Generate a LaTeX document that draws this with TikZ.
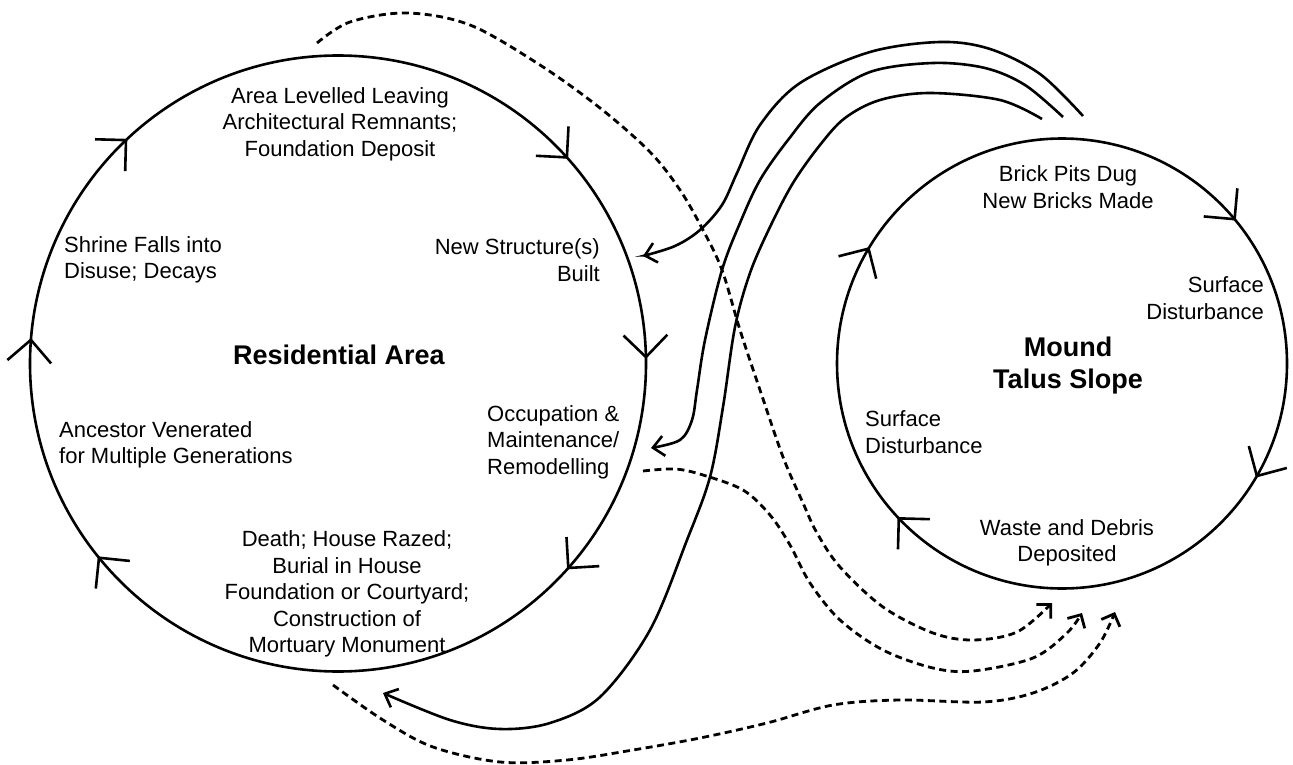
\documentclass[tikz,border=0pt]{standalone}
\usepackage{fontspec}
\setmainfont{Liberation Sans}
\usetikzlibrary{arrows.meta,calc}
\tikzset{
  ring/.style={draw, circle, inner sep=0pt, line width=2.6pt},
  ringtip/.style={line width=2.6pt, line join=miter},
  lbl/.style={inner sep=0pt, font=\fontsize{22}{26.5}\selectfont},
  ttl/.style={inner sep=0pt, font=\fontsize{27}{32}\selectfont\bfseries},
  flow/.style={line width=2.6pt, -{Straight Barb[length=11pt,width=20pt]}},
  refuse/.style={line width=2.8pt, dash pattern=on 7pt off 4.5pt, -{Straight Barb[length=10pt,width=20pt]}},
}
\newcommand\cycmark[3]{%
  \draw[ringtip] ($(#1.center)+(#3:#2)$) ++(#3+45:31) -- ++(#3+225:31) -- ++(#3+135:31);}
\begin{document}
\begin{tikzpicture}[x=1pt,y=1pt]
\fill[white] (0,0) rectangle (1293,-765);
\useasboundingbox (0,0) rectangle (1293,-765);
% cycles
\node[ring, minimum size=616pt] (L) at (338,-363.5) {};
\node[ring, minimum size=450pt] (R) at (1062,-363.5) {};
\cycmark{L}{308}{133.5}
\cycmark{L}{308}{42}
\cycmark{L}{308}{1.2}
\cycmark{L}{308}{-41.6}
\cycmark{L}{308}{219.1}
\cycmark{L}{308}{175.6}
\cycmark{R}{225}{39.9}
\cycmark{R}{225}{-30}
\cycmark{R}{225}{223.5}
\cycmark{R}{225}{149.3}
% labels, residential area
\node[lbl, align=center] (lev) at (340,-124) {Area Levelled Leaving\\Architectural Remnants;\\Foundation Deposit};
\node[lbl, align=left, anchor=west] (shr) at (64,-260) {Shrine Falls into\\Disuse; Decays};
\node[lbl, align=right, anchor=east] (new) at (600,-260) {New Structure(s)\\Built};
\node[ttl] (res) at (339,-355) {Residential Area};
\node[lbl, align=left, anchor=west] (occ) at (487,-442) {Occupation \&\\Maintenance/\\Remodelling};
\node[lbl, align=left, anchor=west] (anc) at (59,-445) {Ancestor Venerated\\for Multiple Generations};
\node[lbl, align=center] (dea) at (347,-594) {Death; House Razed;\\Burial in House\\Foundation or Courtyard;\\Construction of\\Mortuary Monument};
% labels, mound
\node[lbl, align=center] (bri) at (1068,-187) {Brick Pits Dug\\New Bricks Made};
\node[lbl, align=right, anchor=east] (su1) at (1264,-298) {Surface\\Disturbance};
\node[ttl, align=center] (mou) at (1068,-366) {Mound\\Talus Slope};
\node[lbl, align=left, anchor=west] (su2) at (865,-432) {Surface\\Disturbance};
\node[lbl, align=center] (was) at (1067,-543) {Waste and Debris\\Deposited};
% connector ends
\coordinate (s1a) at (1083,-116);
\coordinate (s1b) at (643,-256);
\coordinate (s2a) at (1063,-117);
\coordinate (s2b) at (651,-448);
\coordinate (s3a) at (1042,-119);
\coordinate (s3b) at (383,-693);
\coordinate (d1a) at (317,-43);
\coordinate (d1b) at (1052,-603);
\coordinate (d2a) at (643,-471);
\coordinate (d2b) at (1082,-613);
\coordinate (d3a) at (333,-685);
\coordinate (d3b) at (1115,-612);
% solid connectors: mound -> residential area
\draw[flow] plot[smooth, tension=0.55] coordinates {(s1a) (1040,-74) (990,-49) (940,-42) (870,-52) (800,-83) (760,-125) (737,-173) (722,-205) (700,-230) (675,-246) (s1b)};
\draw[flow] plot[smooth, tension=0.55] coordinates {(s2a) (1025,-85) (985,-68) (933,-63) (870,-72) (820,-103) (788,-140) (760,-180) (740,-223) (722,-270) (705,-340) (697,-390) (692,-420) (680,-440) (s2b)};
\draw[flow] plot[smooth, tension=0.55] coordinates {(s3a) (1000,-100) (930,-93) (880,-100) (845,-118) (820,-145) (793,-183) (770,-227) (750,-273) (735,-327) (723,-407) (710,-477) (687,-540) (650,-630) (600,-697) (550,-723) (500,-729) (450,-720) (s3b)};
% dashed connectors: residential area -> mound
\draw[refuse] plot[smooth, tension=0.55] coordinates {(d1a) (350,-22) (407,-13) (470,-25) (540,-65) (600,-108) (650,-152) (680,-190) (703,-230) (722,-270) (740,-330) (760,-390) (783,-457) (803,-503) (817,-533) (840,-567) (883,-607) (933,-633) (973,-640) (1017,-632) (d1b)};
\draw[refuse] plot[smooth, tension=0.55] coordinates {(d2a) (675,-469) (703,-475) (743,-490) (770,-515) (790,-545) (810,-583) (840,-620) (883,-650) (933,-668) (973,-671) (1033,-658) (1067,-633) (d2b)};
\draw[refuse] plot[smooth, tension=0.55] coordinates {(d3a) (383,-720) (433,-747) (500,-762) (567,-760) (633,-750) (700,-738) (767,-723) (833,-705) (900,-700) (983,-702) (1033,-693) (1073,-673) (1100,-643) (d3b)};
\end{tikzpicture}
\end{document}
